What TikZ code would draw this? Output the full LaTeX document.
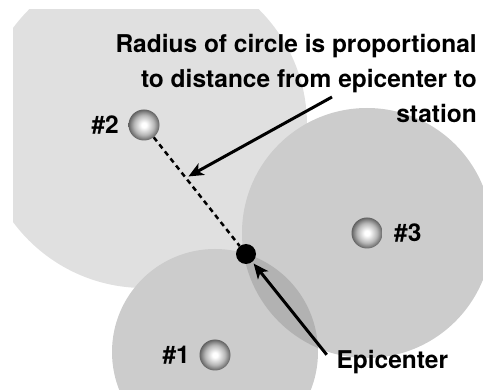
\documentclass[tikz,border=0pt]{standalone}
\usepackage{fontspec}
\setmainfont{TeX Gyre Heros}
\usetikzlibrary{arrows.meta, positioning}
\definecolor{ringlight}{gray}{0.88}
\definecolor{ringmid}{gray}{0.80}
\definecolor{ringdark}{gray}{0.70}
\pgfdeclareradialshading{stationball}{\pgfpoint{0bp}{0bp}}{%
  color(0bp)=(white); color(4bp)=(white); color(16bp)=(black!28);
  color(22bp)=(black!50); color(25bp)=(black!62); color(50bp)=(black!62)}

\begin{document}
\begin{tikzpicture}[x=1pt, y=-1pt,
  station/.style={circle, minimum size=31pt, inner sep=0pt, shading=stationball},
  quake/.style={circle, fill=black, minimum size=20pt, inner sep=0pt},
  tag/.style={font=\bfseries\fontsize{24.5}{35}\selectfont},
  pointer/.style={-{Stealth[length=15pt, width=13pt, inset=4pt]}, line width=3pt},
  reach/.style={dash pattern=on 5pt off 4pt, line width=2.5pt},
  node distance=6pt
]
\useasboundingbox (0,0) rectangle (483,390);

% Distance circles
\begin{scope}
  \clip (13,10) rectangle (483,390);
  \fill[ringlight] (144,125) circle[radius=163];
\end{scope}
\begin{scope}
  \clip (0,0) rectangle (483,390);
  \fill[ringmid] (367,233) circle[radius=125];
  \fill[ringmid] (215,352) circle[radius=103];
  \clip (215,352) circle[radius=103];
  \fill[ringdark] (367,233) circle[radius=125];
\end{scope}

% Stations and epicenter
\node[station] (s2) at (144,125) {};
\node[station] (s3) at (367,233) {};
\node[station] (s1) at (215,355) {};
\node[quake] (epi) at (246,254) {};

\node[tag, left=6pt of s2] (l2) {\#2};
\node[tag, right=8pt of s3] (l3) {\#3};
\node[tag, left=6pt of s1] (l1) {\#1};
\node[tag, anchor=base west] (epilabel) at (333,369) {Epicenter};
\node[tag, align=right, anchor=north east, inner sep=0pt] (note) at (477,34)
    {Radius of circle is proportional\\to distance from epicenter to\\station};

% Radius and pointers
\draw[reach] (s2) -- (epi);
\path (s2.center) -- coordinate[pos=0.41] (aim) (epi.center);
\coordinate (tail) at (332,97);
\draw[pointer, shorten >=3pt] (tail) -- (aim);
\draw[pointer, shorten <=10pt, shorten >=2pt] (epilabel.west) -- (epi);
\end{tikzpicture}
\end{document}
